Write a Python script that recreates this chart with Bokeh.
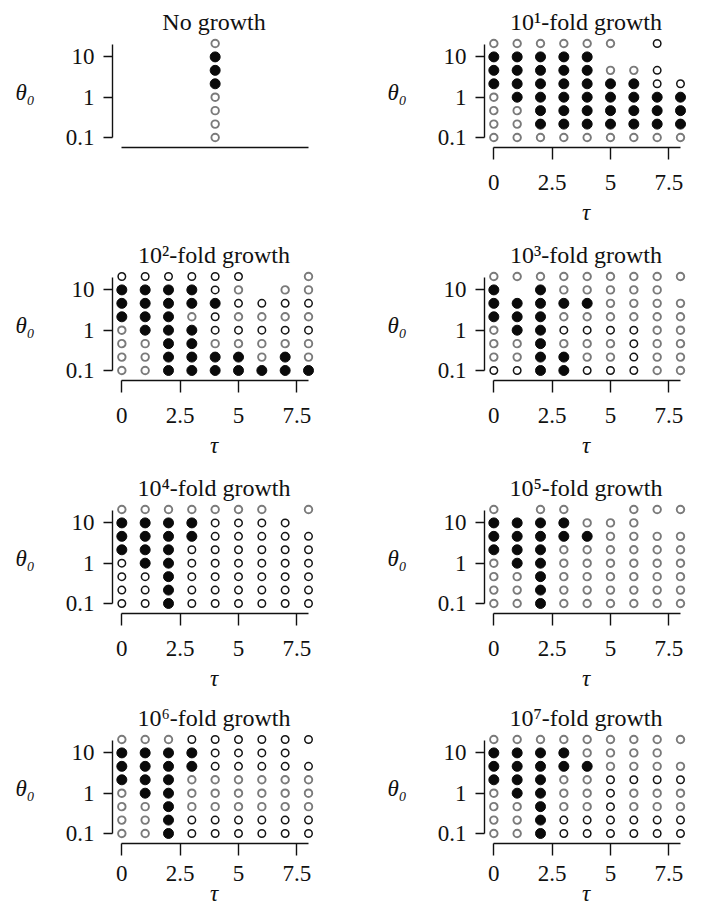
from bokeh.plotting import figure
from bokeh.layouts import column, row
from bokeh.models import Range1d, FixedTicker
from bokeh.embed import file_html
from bokeh.resources import INLINE

# ---------------- data ----------------
tau = [0, 1, 2, 3, 4, 5, 6, 7, 8]
# theta0 levels, rows from top to bottom
theta0 = [21.5, 10, 4.64, 2.15, 1, 0.464, 0.215, 0.1]

x_ticks = [0, 2.5, 5, 7.5]
x_tick_labels = ["0", "2.5", "5", "7.5"]
y_ticks = [0.1, 1, 10]
y_tick_labels = ["0.1", "1", "10"]

titles = ["No growth", "10¹-fold growth", "10²-fold growth", "10³-fold growth",
          "10⁴-fold growth", "10⁵-fold growth", "10⁶-fold growth", "10⁷-fold growth"]

# F = filled, o = open (black), g = open (grey), . = no point ; columns tau 0..8
grid_none = ["....g....", "....F....", "....F....", "....F....",
             "....g....", "....g....", "....g....", "....g...."]
grid_1 = ["gggggg.o.", "FFFFF....", "FFFFFggo.", "FFFFFFFoo",
          "gFFFFFFFF", "ggFFFFFFF", "ggFFFFFFF", "ggggggggg"]
grid_2 = ["oooooo..g", "FFFFog.gg", "FFFFFoooo", "FFFgogggg",
          "gFFFooooo", "ggFFggggg", "ggFFFFgFg", "ggFFFFFFF"]
grid_3 = ["ggggggggg", "F.Fggggg.", "FFFFFgggg", "FFFgggggg",
          "gFFoooogg", "ggFgggogg", "ggFFggogg", "ooFFooogg"]
grid_4 = ["ggggggg.g", "FFFFoooo.", "FFFFooooo", "FFFoooooo",
          "oFFoooooo", "ooFoooooo", "ooFoooooo", "ooFoooooo"]
grid_5 = ["g.gg..ggg", "FFFFggg..", "FFFFFgggg", "FFFgggggg",
          "gFFgggggg", "ggFgggggg", "ggFgggggg", "ggFgggggg"]
grid_6 = ["gggoooooo", "FFFFoooo.", "FFFFooooo", "FFFgggggg",
          "gFFgggggg", "ggFgggggg", "ggFoooooo", "ggFoooooo"]
grid_7 = ["ggggggggg", "FFFFgggg.", "FFFFFgggg", "FFFggoooo",
          "gFFggoggg", "ggFggoggg", "ggFoooooo", "ggFoooooo"]

grids = [grid_none, grid_1, grid_2, grid_3, grid_4, grid_5, grid_6, grid_7]

# ---------------- style ----------------
FONT = "Liberation Serif"
TICK_SIZE = "23px"
TITLE_SIZE = "24px"
FRAME_H = 111
row_heights = [238, 233, 230, 213]
row_tops = [36, 31, 31, 31]
col_widths = [380, 313]
col_left = [112, 104]
col_right = [65, 6]


def make_panel(idx, r, c):
    grid = grids[idx]
    width, height = col_widths[c], row_heights[r]
    last_row = (r == 3)
    p = figure(width=width, height=height, y_axis_type="log",
               x_range=Range1d(-0.4, 8.3), y_range=Range1d(0.0564, 32.1),
               output_backend="svg", toolbar_location=None,
               min_border_left=col_left[c], min_border_right=col_right[c],
               min_border_top=row_tops[r],
               min_border_bottom=height - row_tops[r] - FRAME_H)
    p.title.text = titles[idx]
    p.title.align = "center"
    p.title.text_font = FONT
    p.title.text_font_size = TITLE_SIZE
    p.title.text_font_style = "normal"
    p.title.standoff = 3
    p.title.text_color = "#111111"
    p.outline_line_color = None
    p.xgrid.visible = False
    p.ygrid.visible = False
    p.background_fill_color = "white"

    groups = {"F": ([], []), "o": ([], []), "g": ([], [])}
    for ri, line in enumerate(grid):
        for ci, ch in enumerate(line):
            if ch in groups:
                groups[ch][0].append(tau[ci])
                groups[ch][1].append(theta0[ri])
    p.scatter(groups["g"][0], groups["g"][1], marker="circle", size=7.5,
              fill_color="white", line_color="#7a7a7a", line_width=1.9)
    p.scatter(groups["o"][0], groups["o"][1], marker="circle", size=7.5,
              fill_color="white", line_color="#151515", line_width=1.5)
    p.scatter(groups["F"][0], groups["F"][1], marker="circle", size=10,
              fill_color="#0a0a0a", line_color="#0a0a0a", line_width=1)

    for ax in p.axis:
        ax.axis_line_color = "#111111"
        ax.axis_line_width = 1.4
        ax.major_tick_line_color = "#111111"
        ax.major_tick_line_width = 1.4
        ax.major_tick_in = 0
        ax.minor_tick_in = 0
        ax.minor_tick_out = 0
        ax.major_label_text_font = FONT
        ax.major_label_text_font_size = TICK_SIZE
        ax.major_label_text_color = "#111111"
        ax.axis_label_text_font = FONT
        ax.axis_label_text_font_size = TICK_SIZE
        ax.axis_label_text_font_style = "italic"
        ax.axis_label_text_color = "#111111"

    ya = p.yaxis[0]
    ya.bounds = (0.1, 20)
    ya.ticker = FixedTicker(ticks=y_ticks)
    ya.major_label_overrides = dict(zip(y_ticks, y_tick_labels))
    ya.major_tick_out = 9
    ya.major_label_standoff = 9
    ya.axis_label = "θ₀"
    ya.axis_label_orientation = "horizontal"
    ya.axis_label_standoff = 28

    xa = p.xaxis[0]
    xa.bounds = (0, 8)
    if idx == 0:
        xa.ticker = FixedTicker(ticks=[])
        xa.major_tick_out = 0
    else:
        xa.ticker = FixedTicker(ticks=x_ticks)
        xa.major_label_overrides = dict(zip(x_ticks, x_tick_labels))
        xa.major_tick_out = 12
        if last_row:
            xa.major_label_standoff = 10
            xa.axis_label_standoff = -3
        else:
            xa.major_label_standoff = 15
            xa.axis_label_standoff = 7
        xa.axis_label = "τ"
    return p


rows = []
for r in range(4):
    figs = [make_panel(r * 2 + c, r, c) for c in range(2)]
    rows.append(row(*figs))

layout = column(*rows)

open("out.html", "w").write(file_html(layout, INLINE))
